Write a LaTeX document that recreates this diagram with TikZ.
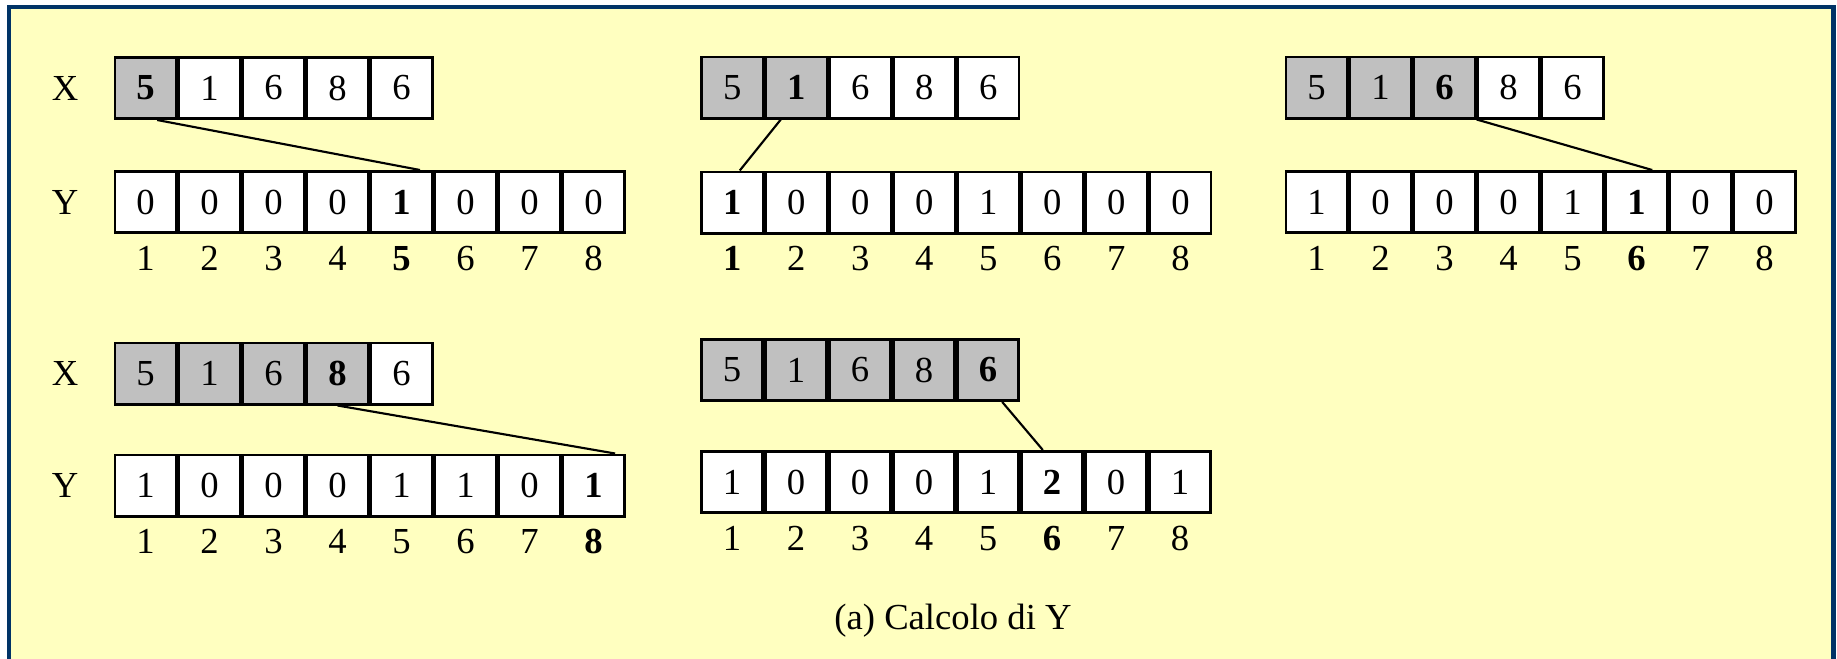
\documentclass[tikz,border=0pt]{standalone}
\usepackage{fontspec}
\setmainfont{Liberation Serif}
\usetikzlibrary{positioning}
\definecolor{frameblue}{HTML}{003366}
\definecolor{paneyellow}{HTML}{FFFFC0}
\definecolor{cellgray}{HTML}{C0C0C0}
\tikzset{every picture/.style={line width=0.75pt}}
\tikzset{
  cell/.style={draw, line width=2pt, minimum width=46pt, minimum height=46pt, inner sep=0pt, font=\fontsize{27.5}{33}\selectfont},
  idx/.style={inner sep=0pt, text height=18.7pt, text depth=0pt, font=\fontsize{27.5}{33}\selectfont},
  link/.style={line width=1.6pt}
}
\begin{document}
\begin{tikzpicture}[x=0.75pt,y=0.75pt,yscale=-1,xscale=1]
    \useasboundingbox (0,0) rectangle (1837,658);
    %Shape: Frame
    \fill[white] (0,0) rectangle (1837,658);
    \draw[frameblue, line width=3.2pt, fill=paneyellow] (9,7.2) rectangle (1833.5,690);
    % Step 1
    \foreach \f/\v [count=\i] in {cellgray/\textbf{5}, white/1, white/6, white/8, white/6}
        \node[cell, fill=\f] (ax\i) at ({145.5+64*(\i-1)}, 88) {\v};
    \foreach \v [count=\i] in {0,0,0,0,\textbf{1},0,0,0}
        \node[cell, fill=white] (ay\i) at ({145.5+64*(\i-1)}, 202) {\v};
    \foreach \v [count=\i] in {1,2,3,4,\textbf{5},6,7,8}
        \node[idx, below=8pt of ay\i] (an\i) {\v};
    \node[idx, left=26pt of ax1] (axlabel) {X};
    \node[idx, left=26pt of ay1] (aylabel) {Y};
    \draw[link] (ax1.-70) -- (ay5.60);
    % Step 2
    \foreach \f/\v [count=\i] in {cellgray/5, cellgray/\textbf{1}, white/6, white/8, white/6}
        \node[cell, fill=\f] (bx\i) at ({732.4+64*(\i-1)}, 87.5) {\v};
    \foreach \v [count=\i] in {\textbf{1},0,0,0,1,0,0,0}
        \node[cell, fill=white] (by\i) at ({732.4+64*(\i-1)}, 202.5) {\v};
    \foreach \v [count=\i] in {\textbf{1},2,3,4,5,6,7,8}
        \node[idx, below=8pt of by\i] (bn\i) {\v};
    \draw[link] (bx2.-116) -- (by1.77);
    % Step 3
    \foreach \f/\v [count=\i] in {cellgray/5, cellgray/1, cellgray/\textbf{6}, white/8, white/6}
        \node[cell, fill=\f] (cx\i) at ({1316.6+64*(\i-1)}, 87.5) {\v};
    \foreach \v [count=\i] in {1,0,0,0,1,\textbf{1},0,0}
        \node[cell, fill=white] (cy\i) at ({1316.6+64*(\i-1)}, 202) {\v};
    \foreach \v [count=\i] in {1,2,3,4,5,\textbf{6},7,8}
        \node[idx, below=8pt of cy\i] (cn\i) {\v};
    \draw[link] (cx3.south east) -- (cy6.64);
    % Step 4
    \foreach \f/\v [count=\i] in {cellgray/5, cellgray/1, cellgray/6, cellgray/\textbf{8}, white/6}
        \node[cell, fill=\f] (dx\i) at ({145.5+64*(\i-1)}, 373.5) {\v};
    \foreach \v [count=\i] in {1,0,0,0,1,1,0,\textbf{1}}
        \node[cell, fill=white] (dy\i) at ({145.5+64*(\i-1)}, 485.5) {\v};
    \foreach \v [count=\i] in {1,2,3,4,5,6,7,\textbf{8}}
        \node[idx, below=8pt of dy\i] (dn\i) {\v};
    \node[idx, left=26pt of dx1] (dxlabel) {X};
    \node[idx, left=26pt of dy1] (dylabel) {Y};
    \draw[link] (dx4.south) -- (dy8.56);
    % Step 5
    \foreach \f/\v [count=\i] in {cellgray/5, cellgray/1, cellgray/6, cellgray/8, cellgray/\textbf{6}}
        \node[cell, fill=\f] (ex\i) at ({732+64*(\i-1)}, 370) {\v};
    \foreach \v [count=\i] in {1,0,0,0,1,\textbf{2},0,1}
        \node[cell, fill=white] (ey\i) at ({732+64*(\i-1)}, 482) {\v};
    \foreach \v [count=\i] in {1,2,3,4,5,\textbf{6},7,8}
        \node[idx, below=8pt of ey\i] (en\i) {\v};
    \draw[link] (ex5.-66) -- (ey6.106);
    % Text Node
    \node[idx] (caption) at (953,617) {(a) Calcolo di Y};
\end{tikzpicture}
\end{document}
